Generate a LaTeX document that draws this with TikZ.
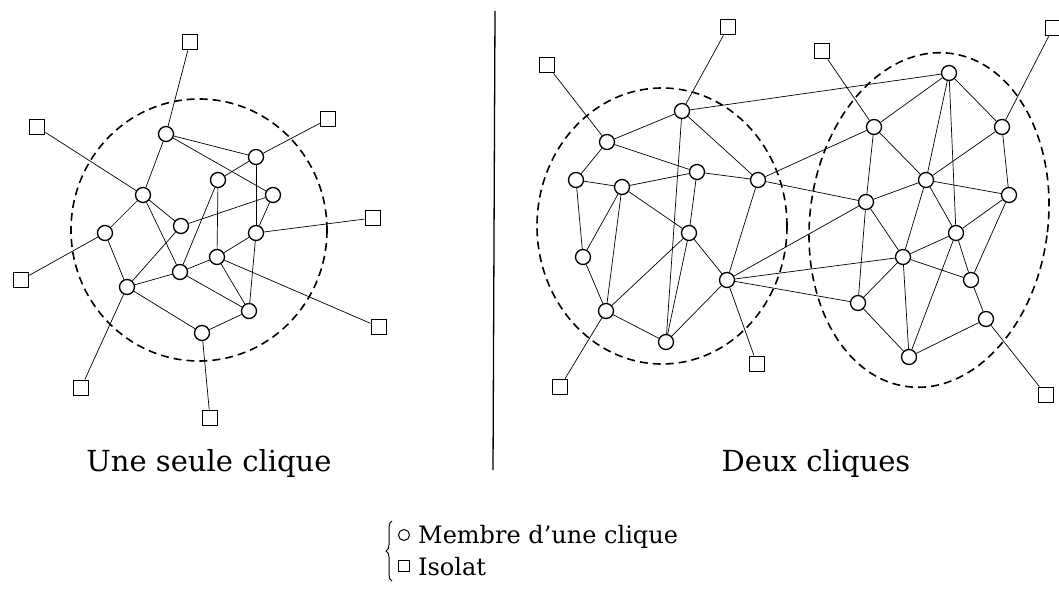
\documentclass[tikz,border=0pt]{standalone}
\usepackage{fontspec}
\setmainfont{DejaVu Serif}
\usetikzlibrary{decorations.pathreplacing}
\begin{document}
\begin{tikzpicture}[x=1pt,y=-1pt,
  mem/.style={circle,draw,line width=1.3pt,minimum size=15pt,inner sep=0pt,fill=white},
  iso/.style={rectangle,draw,line width=1.3pt,minimum size=15.5pt,inner sep=0pt,fill=white},
  lnk/.style={line width=0.7pt},
  clq/.style={dash pattern=on 8pt off 5pt,line width=1.6pt},
  lbl/.style={font=\fontsize{29}{34}\selectfont,inner sep=0pt},
  leg/.style={font=\fontsize{24}{30}\selectfont,inner sep=0pt},
]
\useasboundingbox (0,0) rectangle (1059,593);
\clip (0,0) rectangle (1059,593);

% ---------- left panel ----------
\draw[clq] (199,230) ellipse [x radius=128, y radius=131];
\foreach \n/\x/\y in {lA/166/134,lB/256/157,lC/218/180,lD/273/195,lE/143/195,lF/181/226,lG/105/233,lH/256/233,lI/217/257,lJ/180/272,lK/127/287,lL/249/311,lM/202/333}
  \node[mem] (\n) at (\x,\y) {};
\foreach \n/\x/\y in {lS1/190/42,lS2/37/127,lS3/328/119,lS4/373/218,lS5/21/280,lS6/379/327,lS7/81/388,lS8/210/418}
  \node[iso] (\n) at (\x,\y) {};
\foreach \u/\v in {lS1/lA,lA/lB,lA/lD,lA/lE,lB/lC,lB/lS3,lB/lH,lC/lI,lC/lJ,lD/lF,lD/lH,lS2/lE,lE/lG,lE/lF,lE/lJ,lG/lS5,lG/lK,lF/lK,lH/lS4,lH/lI,lH/lL,lI/lJ,lI/lL,lI/lS6,lJ/lK,lJ/lL,lK/lM,lK/lS7,lL/lM,lM/lS8}
  \draw[lnk] (\u) -- (\v);

% ---------- divider ----------
\coordinate (dtop) at (495,11);
\coordinate (dbot) at (493,470);
\draw[line width=1.3pt] (dtop) -- (dbot);

% ---------- right panel ----------
\draw[clq] (662,226) ellipse [x radius=125, y radius=138];
\draw[clq,shift={(929,220)},rotate=-7.5] (0,0) ellipse [x radius=119, y radius=168];
\foreach \n/\x/\y in {ra/682/111,rb/607/142,rc/576/180,rd/622/187,re/697/172,rf/758/180,rg/689/233,rh/583/257,ri/727/280,rj/606/311,rk/666/342,
  rp/949/73,rq/874/127,rr/1002/127,rs/926/180,rt/866/202,ru/1009/195,rv/956/233,rw/903/257,rx/971/280,ry/858/303,rz/986/319,rzz/909/357}
  \node[mem] (\n) at (\x,\y) {};
\foreach \n/\x/\y in {rT1/728/27,rT2/547/65,rT3/757/364,rT4/560/387,rT5/822/51,rT6/1053/28,rT7/1046/395}
  \node[iso] (\n) at (\x,\y) {};
\foreach \u/\v in {rT1/ra,ra/rb,ra/rk,ra/rf,ra/rp,rT2/rb,rb/rc,rb/re,rc/rd,rc/rh,rd/re,rd/rg,rd/rh,rd/rj,re/rf,re/rg,rf/ri,rf/rq,rf/rt,rg/rj,rg/rk,rg/ri,ri/rk,ri/rT3,ri/rt,ri/rw,ri/ry,rj/rk,rj/rT4,rh/rj,
  rT5/rq,rT6/rr,rT7/rz,rp/rq,rp/rr,rp/rs,rp/rv,rq/rs,rq/rt,rr/rs,rr/ru,rs/rt,rs/ru,rs/rv,rs/rw,rt/rw,rt/ry,ru/rv,ru/rx,rv/rw,rv/rx,rv/rzz,rw/rx,rw/ry,rw/rzz,rx/rz,ry/rzz,rz/rzz}
  \draw[lnk] (\u) -- (\v);

% ---------- captions ----------
\node[lbl,anchor=base] (cap1) at (209,471) {Une seule clique};
\node[lbl,anchor=base] (cap2) at (816,471) {Deux cliques};

% ---------- legend ----------
\node[leg,anchor=base west] (legm) at (418,543) {Membre d'une clique};
\node[leg,anchor=base west] (legi) at (418,575) {Isolat};
\node[circle,draw,line width=1pt,minimum size=11pt,inner sep=0pt] (legc) at (404,535) {};
\node[rectangle,draw,line width=1pt,minimum size=11pt,inner sep=0pt] (legs) at (404,566) {};
\coordinate (bbot) at (392,581);
\coordinate (btop) at (392,521);
\draw[line width=1pt,decorate,decoration={brace,amplitude=6pt}] (bbot) -- (btop);
\end{tikzpicture}
\end{document}
